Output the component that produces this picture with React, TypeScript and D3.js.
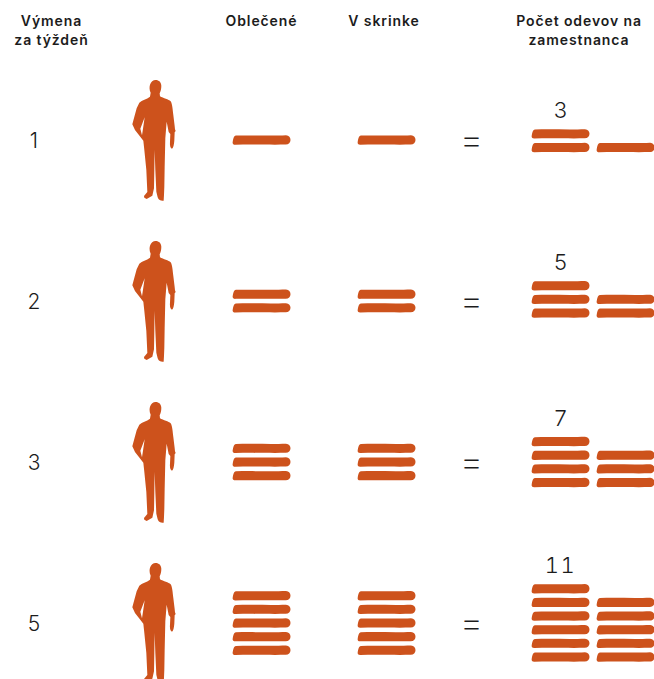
import React from "react";
import * as d3 from "d3";

const swapsPerWeek = [1, 2, 3, 5];
const worn = [1, 2, 3, 5];
const inCloset = [1, 2, 3, 5];
const totalLeftColumn = [2, 3, 4, 6];
const totalRightColumn = [1, 2, 3, 5];
const totals = [3, 5, 7, 11];
const headers = [
  { lines: ["Výmena", "za týždeň"], column: "swap" },
  { lines: ["Oblečené"], column: "worn" },
  { lines: ["V skrinke"], column: "closet" },
  { lines: ["Počet odevov na", "zamestnanca"], column: "total" },
];

const W = 654;
const H = 679;
const ORANGE = "#cd521c";
const INK = "#1c1c1c";
const FONT = "'Inter', 'Liberation Sans', sans-serif";

const columns = ["swap", "person", "worn", "closet", "equals", "total"];
const xCol = d3.scaleOrdinal<string, number>().domain(columns).range([34, 154, 261.5, 386, 471.5, 560.5]);
const xHead = d3.scaleOrdinal<string, number>().domain(["swap", "worn", "closet", "total"]).range([51.5, 261.5, 384, 579]);
const yRow = d3.scalePoint<number>().domain(d3.range(4)).range([140, 623]);
const stackOffset = [12.5, 17, 25.5, 39];
const step = 13.65;
const barW = 58;
const barH = 10;

const BAR = "M3.5,.6C20,.2 40,.9 53.5,.3C56.5,.3 58,2.5 58,5C58,7.8 56,9.6 53,9.5C40,9.9 20,9.2 3,9.7C.8,9.8 -.2,8.6 .2,7C.6,4.5 1,1 3.5,.6Z";

const PERSON =
  "M107,30C117,30 124,37 124,47C124,56 122,64 119,70L120,79C130,85 146,88 152,94C157,102 158,118 160,135C162,152 164,165 165,178L167,183L164,187L163,212C162,224 160,233 156,236C151,234 149,226 150,215L151,192L146,186L140,155L136,205L134,290L133,350L132,375L131,392C125,393 116,392 113,382L109,365L106,300L104,240L103,300L102,355L97,377L80,387L73,383L72,378L82,366L79,300L73,240L70,212L62,202L45,180L37,163L41,148L50,115L58,98C66,90 80,88 90,80L92,68C88,60 88,50 90,44C93,35 99,30 107,30Z" +
  "M74,142L61,176L66,196L69,176Z";

function Bars({ n, x, yBottom }: { n: number; x: number; yBottom: number }) {
  return (
    <>
      {d3.range(n).map((i) => (
        <path key={i} d={BAR} fill={ORANGE} transform={`translate(${x},${yBottom - i * step - barH})`} />
      ))}
    </>
  );
}

export default function App() {
  return (
    <svg width={W} height={H} viewBox={`0 0 ${W} ${H}`} style={{ position: "absolute", left: 0, top: 0, background: "#fff" }} fontFamily={FONT}>
      {headers.map((h) =>
        h.lines.map((line, i) => (
          <text key={line} x={xHead(h.column)} y={26 + i * 19} textAnchor="middle" fontSize={14} letterSpacing={0.9} fontWeight={600} fill={INK}>
            {line}
          </text>
        ))
      )}
      {swapsPerWeek.map((s, r) => {
        const cy = yRow(r)!;
        const leftN = totalLeftColumn[r];
        const wornBottom = cy + barH / 2 + ((worn[r] - 1) * step) / 2;
        const closetBottom = cy + barH / 2 + ((inCloset[r] - 1) * step) / 2;
        const bottom = cy + stackOffset[r];
        const stackTop = bottom - (leftN - 1) * step - barH;
        return (
          <g key={s}>
            <text x={xCol("swap")} y={cy + 8} textAnchor="middle" fontSize={21} fontWeight={300} fill={INK}>{s}</text>
            <g transform={`translate(${xCol("person") - 34},${cy - 70}) scale(0.3333)`}>
              <path d={PERSON} fill={ORANGE} fillRule="evenodd" />
            </g>
            <Bars n={worn[r]} x={xCol("worn") - barW / 2} yBottom={wornBottom} />
            <Bars n={inCloset[r]} x={xCol("closet") - barW / 2 + 0.5} yBottom={closetBottom} />
            <text x={xCol("equals")} y={cy + 12.5} textAnchor="middle" fontSize={38} fontWeight={200} fill={INK}>=</text>
            <text x={xCol("total")} y={stackTop - 11} textAnchor="middle" fontSize={22} fontWeight={300} letterSpacing={totals[r] > 9 ? 1.5 : 0} style={{ fontVariantNumeric: "tabular-nums" }} fill={INK}>{totals[r]}</text>
            <Bars n={leftN} x={531.5} yBottom={bottom} />
            <Bars n={totalRightColumn[r]} x={596.5} yBottom={bottom} />
          </g>
        );
      })}
    </svg>
  );
}
